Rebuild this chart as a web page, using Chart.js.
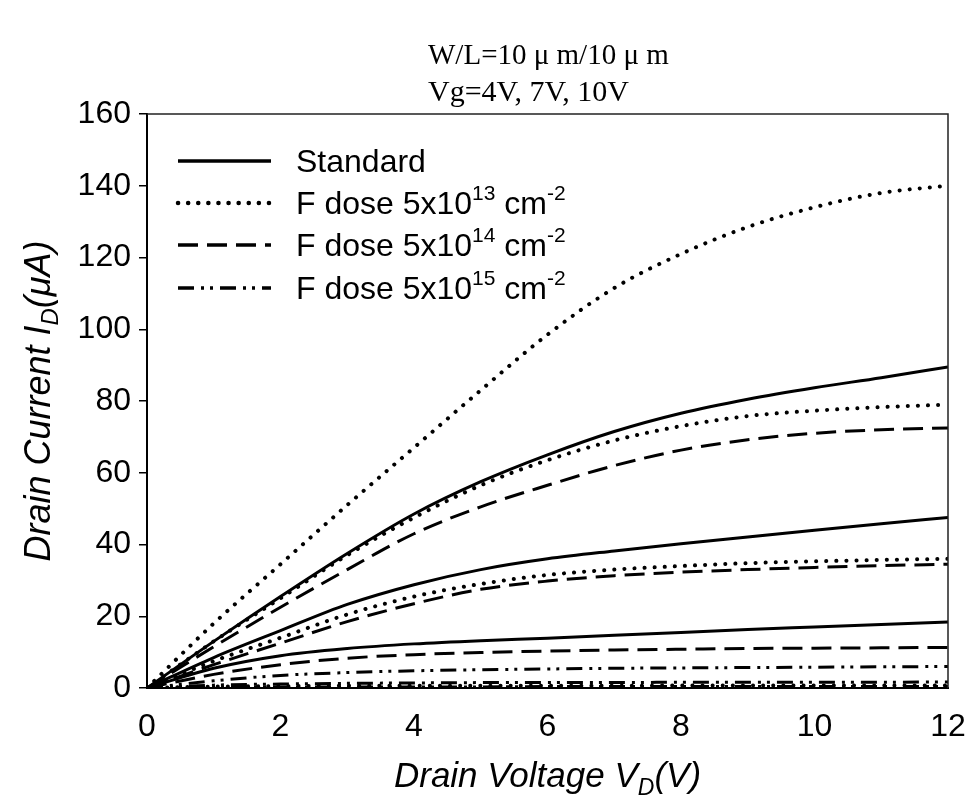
<!DOCTYPE html>
<html>
<head>
<meta charset="utf-8">
<script src="https://cdn.jsdelivr.net/npm/chart.js@4/dist/chart.umd.min.js"></script>
<style>
  html, body { margin: 0; padding: 0; background: #fff; }
  #wrap { width: 969px; height: 807px; }
</style>
</head>
<body>
<div id="wrap"><canvas id="ivChart" width="969" height="807"></canvas></div>
<script>
// drain voltage (V)
const drainVoltage = [0, 1, 2, 3, 4, 5, 6, 7, 8, 9, 10, 11, 12];

// drain current (uA), Vg = 4V, 7V, 10V
const stdVg4  = [0, 5.5, 9, 11, 12.3, 13.2, 13.9, 14.7, 15.5, 16.3, 17, 17.7, 18.4];
const stdVg7  = [0, 8.5, 16, 23.3, 28.8, 33, 36, 38.2, 40.2, 42.1, 44, 45.8, 47.5];
const stdVg10 = [0, 13, 25.5, 37.5, 48.5, 57.5, 65, 71.5, 76.6, 80.5, 83.7, 86.5, 89.5];

const f13Vg4  = [0, 0.4, 0.5, 0.6, 0.6, 0.6, 0.6, 0.6, 0.7, 0.7, 0.7, 0.7, 0.7];
const f13Vg7  = [0, 7.5, 14, 20.5, 25.5, 29, 31.5, 33, 34, 34.8, 35.3, 35.7, 36];
const f13Vg7b = [0, 13, 25, 37, 47.5, 56.5, 63.5, 69, 73, 75.8, 77.3, 78.3, 79];
const f13Vg10 = [0, 18, 34.5, 51, 67, 83, 98.5, 111.5, 121, 128.5, 134, 138, 140];

const f14Vg4  = [0, 3.8, 6.5, 8.3, 9.3, 9.9, 10.3, 10.6, 10.8, 11, 11.1, 11.2, 11.3];
const f14Vg7  = [0, 6.5, 12.5, 18.5, 23.5, 27.5, 29.8, 31.3, 32.3, 33, 33.6, 34.1, 34.5];
const f14Vg10 = [0, 11.5, 22.5, 33, 43, 50.5, 56.5, 62, 66.3, 69.2, 71, 72, 72.5];

const f15Vg4  = [0, 0.2, 0.3, 0.3, 0.3, 0.3, 0.4, 0.4, 0.4, 0.4, 0.4, 0.4, 0.4];
const f15Vg7  = [0, 0.8, 1.1, 1.3, 1.4, 1.5, 1.5, 1.5, 1.6, 1.6, 1.6, 1.6, 1.7];
const f15Vg10 = [0, 2, 3.5, 4.3, 4.8, 5.1, 5.3, 5.5, 5.6, 5.7, 5.8, 5.9, 6];

const legendNames = ['Standard', 'F dose 5x10', 'F dose 5x10', 'F dose 5x10'];
const legendExp = ['', '13', '14', '15'];

const sansFont = '"Liberation Sans", Arial, sans-serif';
const serifFont = '"Liberation Serif", "Times New Roman", serif';

const lineStyles = [
    { dash: [], cap: 'butt', width: 3 },
    { dash: [0.1, 10], cap: 'round', width: 4 },
    { dash: [20, 9], cap: 'butt', width: 3 },
    { dash: [16, 7, 3, 6, 3, 7], cap: 'butt', width: 3 }
];

function pts(ys) {
    return drainVoltage.map((v, i) => ({ x: v, y: ys[i] }));
}

function makeSet(ys, style) {
    const s = lineStyles[style];
    return {
        data: pts(ys),
        showLine: true,
        borderColor: '#000',
        borderWidth: s.width,
        borderDash: s.dash,
        borderCapStyle: s.cap,
        pointRadius: 0,
        cubicInterpolationMode: 'monotone',
        fill: false
    };
}

// draws a run of text pieces, each with own size and vertical shift
function drawRich(ctx, parts, x, y, align) {
    let total = 0;
    parts.forEach(p => {
        ctx.font = (p.italic ? 'italic ' : '') + p.size + 'px ' + (p.family || sansFont);
        p.w = ctx.measureText(p.t).width;
        total += p.w;
    });
    let cx = align === 'center' ? x - total / 2 : x;
    ctx.textBaseline = 'alphabetic';
    ctx.textAlign = 'left';
    parts.forEach(p => {
        ctx.font = (p.italic ? 'italic ' : '') + p.size + 'px ' + (p.family || sansFont);
        ctx.fillText(p.t, cx, y + (p.dy || 0));
        cx += p.w;
    });
}

const decorPlugin = {
    id: 'decor',
    afterDraw(chart) {
        const ctx = chart.ctx;
        const a = chart.chartArea;
        ctx.save();
        ctx.fillStyle = '#000';

        // frame top and right
        ctx.strokeStyle = '#222';
        ctx.lineWidth = 1.5;
        ctx.beginPath();
        ctx.moveTo(a.left, a.top);
        ctx.lineTo(a.right, a.top);
        ctx.lineTo(a.right, a.bottom);
        ctx.stroke();

        // heading
        drawRich(ctx, [{ t: 'W/L=10 \u03bc m/10 \u03bc m', size: 29, family: serifFont }], 428, 64, 'left');
        drawRich(ctx, [{ t: 'Vg=4V, 7V, 10V', size: 30, family: serifFont }], 428, 101, 'left');

        // x axis title
        const midX = (a.left + a.right) / 2;
        drawRich(ctx, [
            { t: 'Drain Voltage V', size: 35, italic: true },
            { t: 'D', size: 23, italic: true, dy: 8 },
            { t: '(V)', size: 35, italic: true }
        ], midX, 787, 'center');

        // y axis title
        ctx.save();
        ctx.translate(50, 401);
        ctx.rotate(-Math.PI / 2);
        drawRich(ctx, [
            { t: 'Drain Current I', size: 36, italic: true },
            { t: 'D', size: 24, italic: true, dy: 8 },
            { t: '(\u03bcA)', size: 36, italic: true }
        ], 0, 0, 'center');
        ctx.restore();

        // legend
        const rowsY = [161, 203, 245, 288];
        rowsY.forEach((ry, i) => {
            const s = lineStyles[i];
            ctx.strokeStyle = '#000';
            ctx.lineWidth = s.width + 0.5;
            ctx.lineCap = s.cap;
            ctx.setLineDash(s.dash);
            ctx.beginPath();
            ctx.moveTo(178, ry);
            ctx.lineTo(271, ry);
            ctx.stroke();
            ctx.setLineDash([]);
            ctx.lineCap = 'butt';
            const parts = [{ t: legendNames[i], size: 32 }];
            if (legendExp[i]) {
                parts.push({ t: legendExp[i], size: 21, dy: -14 });
                parts.push({ t: ' cm', size: 32 });
                parts.push({ t: '-2', size: 21, dy: -14 });
            }
            drawRich(ctx, parts, 296, ry + 11, 'left');
        });
        ctx.restore();
    }
};

const ctx = document.getElementById('ivChart').getContext('2d');
new Chart(ctx, {
    type: 'scatter',
    data: {
        datasets: [
            makeSet(stdVg4, 0), makeSet(stdVg7, 0), makeSet(stdVg10, 0),
            makeSet(f13Vg4, 1), makeSet(f13Vg7, 1), makeSet(f13Vg7b, 1), makeSet(f13Vg10, 1),
            makeSet(f14Vg4, 2), makeSet(f14Vg7, 2), makeSet(f14Vg10, 2),
            makeSet(f15Vg4, 3), makeSet(f15Vg7, 3), makeSet(f15Vg10, 3)
        ]
    },
    options: {
        responsive: false,
        animation: false,
        devicePixelRatio: 1,
        layout: { padding: { top: 114, right: 21, left: 0, bottom: 0 } },
        plugins: {
            legend: { display: false },
            tooltip: { enabled: false },
            title: { display: false }
        },
        scales: {
            x: {
                type: 'linear',
                min: 0,
                max: 12,
                afterFit(scale) {
                    scale.height = 119;
                    scale.paddingRight = 0;
                    scale.paddingLeft = 0;
                },
                ticks: {
                    stepSize: 2,
                    color: '#000',
                    padding: 12,
                    maxRotation: 0,
                    font: { family: sansFont, size: 32 }
                },
                grid: { display: false },
                border: { display: true, color: '#000', width: 2 }
            },
            y: {
                min: 0,
                max: 160,
                afterFit(scale) { scale.width = 147; },
                ticks: {
                    stepSize: 20,
                    color: '#000',
                    padding: 8,
                    font: { family: sansFont, size: 32 }
                },
                grid: {
                    drawOnChartArea: false,
                    drawTicks: true,
                    tickLength: 8,
                    color: '#000',
                    lineWidth: 1.5
                },
                border: { display: true, color: '#000', width: 2 }
            }
        }
    },
    plugins: [decorPlugin]
});
</script>
</body>
</html>
